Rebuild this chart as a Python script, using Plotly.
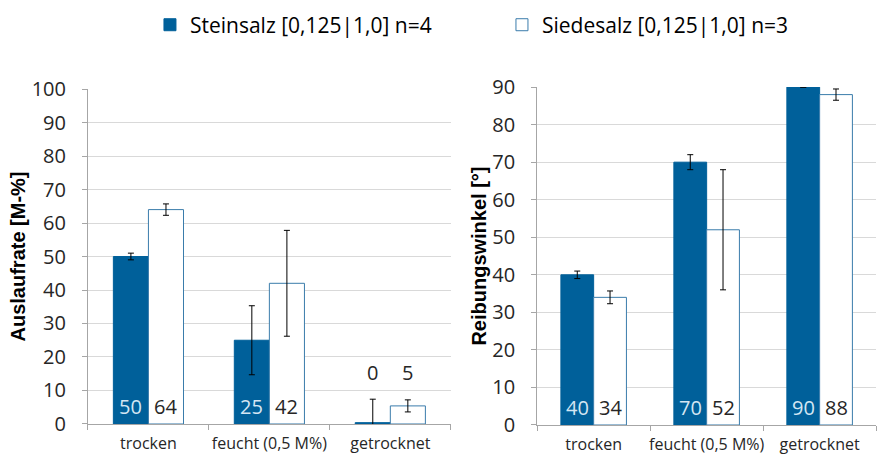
import plotly.graph_objects as go

# Categories and series
categories = ["trocken", "feucht (0,5 M%)", "getrocknet"]
series_names = ["Steinsalz [0,125|1,0] n=4", "Siedesalz [0,125|1,0] n=3"]

# Auslaufrate [M-%]
auslauf_stein = [50, 25, 0.4]
auslauf_stein_err = [1.0, 10.3, 7.0]
auslauf_siede = [64, 42, 5.4]
auslauf_siede_err = [1.7, 15.8, 1.8]

# Reibungswinkel [°]
reib_stein = [40, 70, 90]
reib_stein_err = [1.0, 2.0, 0.0]
reib_siede = [34, 52, 88]
reib_siede_err = [1.7, 16.0, 1.5]

DARK = "#00609A"
OUTLINE = "#3A7CAB"
LIGHT_TXT = "#D4E6F3"
TXT = "#262626"
GRID = "#D9D9D9"
AXIS = "#A6A6A6"
FONT = "Open Sans"

fig = go.Figure()


def add_pair(vals_a, err_a, vals_b, err_b, xa, ya, show):
    fig.add_trace(go.Bar(
        x=categories, y=vals_a, name=series_names[0], xaxis=xa, yaxis=ya,
        marker=dict(color=DARK, line=dict(color=DARK, width=1)),
        error_y=dict(type="data", array=err_a, color="#000000", thickness=1, width=3),
        showlegend=show, legendgroup="a"))
    fig.add_trace(go.Bar(
        x=categories, y=vals_b, name=series_names[1], xaxis=xa, yaxis=ya,
        marker=dict(color="#FFFFFF", line=dict(color=OUTLINE, width=1)),
        error_y=dict(type="data", array=err_b, color="#000000", thickness=1, width=3),
        showlegend=show, legendgroup="b"))


add_pair(auslauf_stein, auslauf_stein_err, auslauf_siede, auslauf_siede_err, "x", "y", True)
add_pair(reib_stein, reib_stein_err, reib_siede, reib_siede_err, "x2", "y2", False)


def add_labels(vals_a, err_a, vals_b, err_b, xr, yr, shift):
    for i, cat in enumerate(categories):
        fits = min(vals_a[i], vals_b[i]) >= 10
        if fits:
            ypos, ysh = 0, 2
            col_a = LIGHT_TXT
        else:
            ypos = max(vals_a[i] + err_a[i], vals_b[i] + err_b[i])
            ysh = 11
            col_a = TXT
        for v, dx, col in ((vals_a[i], -shift, col_a), (vals_b[i], shift, TXT)):
            fig.add_annotation(
                x=cat, y=ypos, xref=xr, yref=yr, xshift=dx, yshift=ysh,
                text=f"{v:.0f}", showarrow=False, yanchor="bottom",
                font=dict(family=FONT, size=20, color=col))


add_labels(auslauf_stein, auslauf_stein_err, auslauf_siede, auslauf_siede_err, "x", "y", 17.5)
add_labels(reib_stein, reib_stein_err, reib_siede, reib_siede_err, "x2", "y2", 16.5)

xcommon = dict(showline=True, linecolor=AXIS, linewidth=1, ticks="outside",
               tickson="boundaries", ticklen=5, tickcolor=AXIS, tickangle=0,
               ticklabelstandoff=5,
               tickfont=dict(family=FONT, size=16, color=TXT), showgrid=False)
ycommon = dict(showline=True, linecolor=AXIS, linewidth=1, ticks="outside",
               ticklen=5, tickcolor=AXIS, gridcolor=GRID, gridwidth=1,
               ticklabelstandoff=12,
               tickfont=dict(family=FONT, size=20, color=TXT), zeroline=False)

fig.update_layout(
    width=877, height=456,
    margin=dict(l=0, r=0, t=0, b=0, autoexpand=False),
    paper_bgcolor="white", plot_bgcolor="white",
    barmode="group", bargap=0.42, bargroupgap=0,
    font=dict(family=FONT, color=TXT),
    xaxis=dict(domain=[0.1003, 0.514], anchor="y", **xcommon),
    yaxis=dict(domain=[0.0702, 0.8048], anchor="x", range=[0, 100], dtick=10,
               title=dict(text="<b>Auslaufrate [M-%]</b>", standoff=0,
                          font=dict(family="Liberation Sans", size=20, color="#000000")),
               **ycommon),
    xaxis2=dict(domain=[0.6125, 0.999], anchor="y2", **xcommon),
    yaxis2=dict(domain=[0.068, 0.809], anchor="x2", range=[0, 90], dtick=10,
                title=dict(text="<b>Reibungswinkel [°]</b>", standoff=0,
                           font=dict(family="Liberation Sans", size=20, color="#000000")),
                **ycommon),
    legend=dict(orientation="h", x=0.171, xanchor="left", y=0.945, yanchor="middle",
                entrywidth=307, entrywidthmode="pixels", itemwidth=30,
                font=dict(family=FONT, size=21, color="#000000"), bgcolor="rgba(0,0,0,0)"),
)

fig.write_html("out.html")
